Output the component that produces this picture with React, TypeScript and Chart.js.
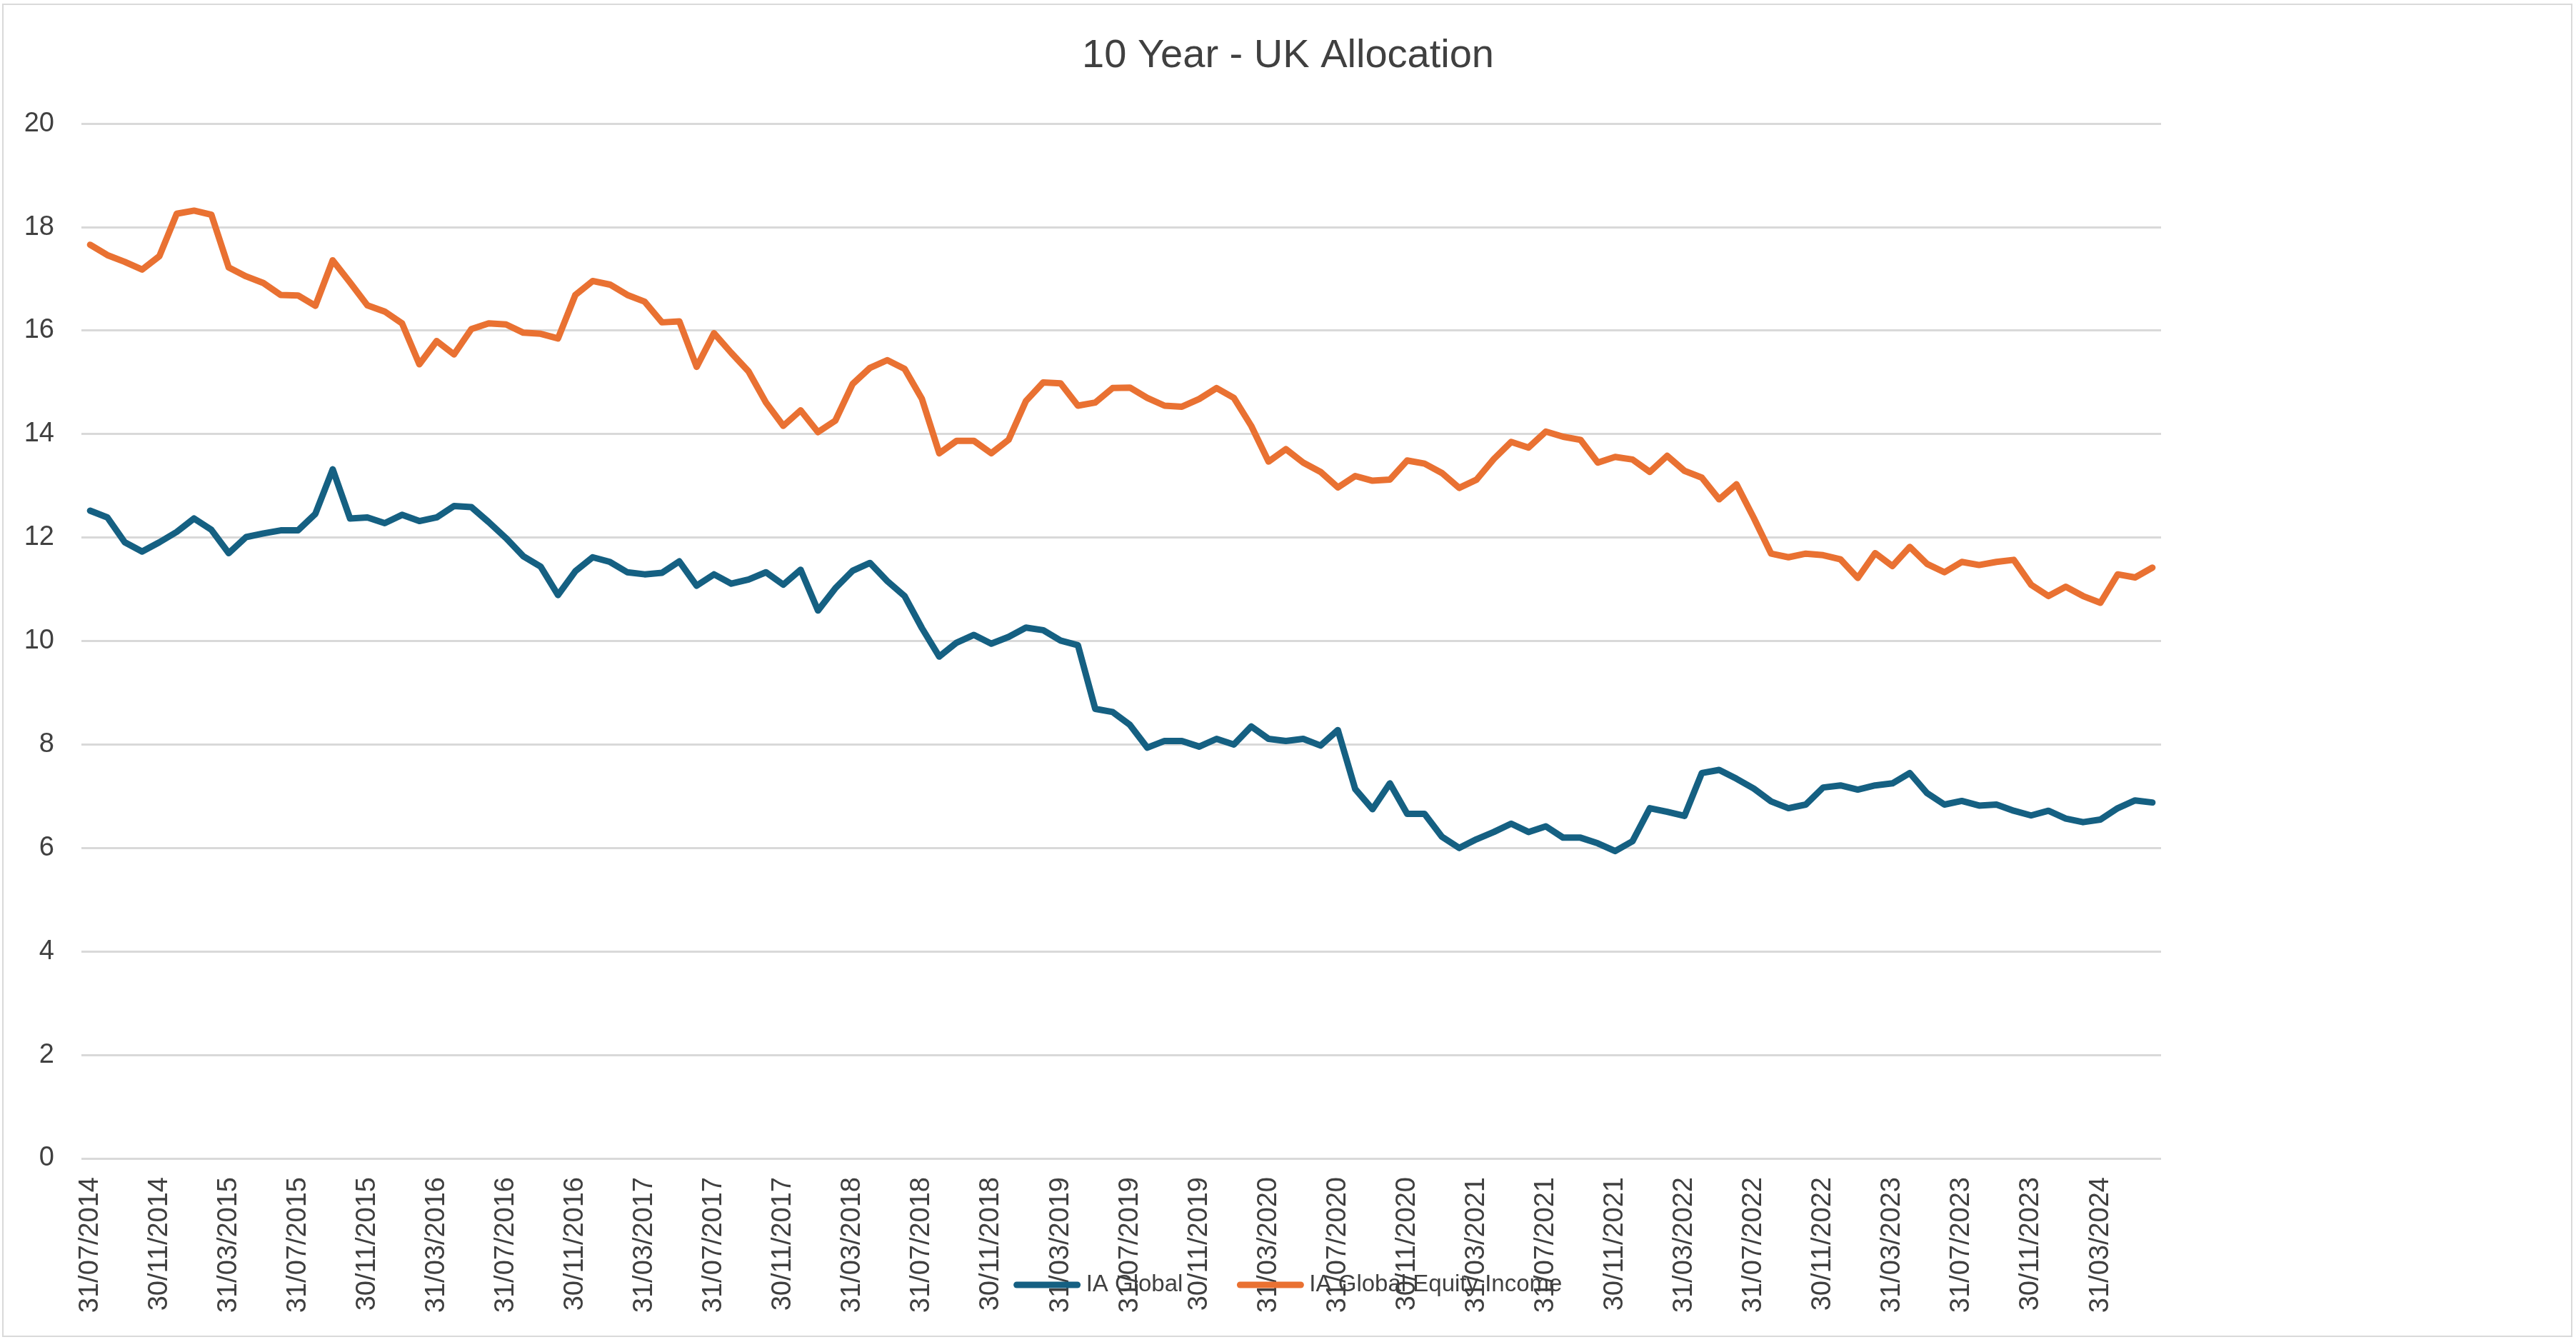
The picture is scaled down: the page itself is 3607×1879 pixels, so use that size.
import { useEffect, useRef } from 'react';
import { Chart, registerables } from 'chart.js';

Chart.register(...registerables);

// Monthly month-end dates: 31/07/2014 .. 30/06/2024
const START_YEAR = 2014;
const START_MONTH = 7;
const MONTH_COUNT = 120;
const LABEL_EVERY = 4;

const categories: string[] = Array.from({ length: MONTH_COUNT }, (_, i) => {
  const m0 = START_MONTH - 1 + i;
  const y = START_YEAR + Math.floor(m0 / 12);
  const m = (m0 % 12) + 1;
  const d = new Date(Date.UTC(y, m, 0)).getUTCDate();
  const pad = (n: number) => String(n).padStart(2, '0');
  return `${pad(d)}/${pad(m)}/${y}`;
});

const TITLE = '10 Year - UK Allocation';
const seriesNames = ['IA Global', 'IA Global Equity Income'];
const seriesColors = ['#156082', '#E97132'];

const iaGlobal: number[] = [
  12.52, 12.39, 11.91, 11.73, 11.91, 12.11, 12.37, 12.15, 11.70, 12.01,
  12.08, 12.14, 12.14, 12.46, 13.32, 12.37, 12.39, 12.28, 12.44, 12.32,
  12.39, 12.61, 12.59, 12.30, 11.99, 11.64, 11.44, 10.89, 11.35, 11.62,
  11.53, 11.33, 11.29, 11.32, 11.54, 11.07, 11.29, 11.11, 11.19, 11.33,
  11.09, 11.38, 10.59, 11.02, 11.36, 11.51, 11.16, 10.87, 10.25, 9.70,
  9.97, 10.12, 9.95, 10.08, 10.26, 10.21, 10.01, 9.92, 8.69, 8.63,
  8.38, 7.94, 8.07, 8.07, 7.96, 8.11, 8.00, 8.35, 8.11, 8.07,
  8.11, 7.98, 8.28, 7.14, 6.75, 7.25, 6.66, 6.66, 6.22, 6.00,
  6.17, 6.31, 6.47, 6.31, 6.42, 6.20, 6.20, 6.09, 5.94, 6.13,
  6.77, 6.70, 6.62, 7.45, 7.51, 7.34, 7.15, 6.90, 6.77, 6.84,
  7.17, 7.21, 7.13, 7.21, 7.25, 7.45, 7.06, 6.84, 6.91, 6.82,
  6.84, 6.72, 6.63, 6.72, 6.57, 6.50, 6.55, 6.77, 6.92, 6.88,
];

const iaGlobalEquityIncome: number[] = [
  17.66, 17.46, 17.33, 17.18, 17.44, 18.26, 18.32, 18.24, 17.22, 17.05,
  16.92, 16.69, 16.68, 16.48, 17.36, 16.93, 16.49, 16.37, 16.14, 15.35,
  15.80, 15.54, 16.03, 16.14, 16.12, 15.96, 15.94, 15.85, 16.69, 16.96,
  16.89, 16.69, 16.56, 16.16, 16.18, 15.30, 15.95, 15.57, 15.21, 14.61,
  14.16, 14.46, 14.04, 14.26, 14.97, 15.28, 15.43, 15.26, 14.68, 13.63,
  13.87, 13.87, 13.63, 13.89, 14.64, 15.00, 14.98, 14.55, 14.61, 14.89,
  14.90, 14.70, 14.55, 14.53, 14.68, 14.89, 14.70, 14.16, 13.47, 13.71,
  13.45, 13.27, 12.97, 13.19, 13.10, 13.12, 13.49, 13.43, 13.25, 12.96,
  13.12, 13.52, 13.85, 13.74, 14.05, 13.95, 13.89, 13.45, 13.56, 13.51,
  13.27, 13.58, 13.29, 13.16, 12.74, 13.03, 12.38, 11.69, 11.62, 11.69,
  11.66, 11.58, 11.22, 11.70, 11.45, 11.82, 11.49, 11.33, 11.53, 11.47,
  11.53, 11.57, 11.09, 10.87, 11.05, 10.87, 10.74, 11.29, 11.23, 11.42,
];

const yTicks = { min: 0, max: 20, step: 2 };

const FONT = '"Liberation Sans", Arial, sans-serif';
const TEXT_COLOR = '#404040';
const GRID_COLOR = '#D9D9D9';
const LINE_WIDTH = 9;

const W = 3607;
const H = 1879;

const framePlugin = {
  id: 'frame',
  beforeDraw(chart: any) {
    const { ctx, width, height } = chart;
    ctx.save();
    ctx.fillStyle = '#ffffff';
    ctx.fillRect(0, 0, width, height);
    ctx.strokeStyle = GRID_COLOR;
    ctx.lineWidth = 2;
    ctx.strokeRect(4, 6, width - 10, height - 14);
    ctx.restore();
  },
};

const bottomLegendPlugin = {
  id: 'bottomLegend',
  afterDraw(chart: any) {
    const { ctx, width } = chart;
    const sample = 93;
    const gapText = 8;
    const gapItem = 76;
    ctx.save();
    ctx.font = `33px ${FONT}`;
    const items = chart.data.datasets.map((ds: any) => ({
      label: ds.label as string,
      color: ds.borderColor as string,
      w: ctx.measureText(ds.label).width,
    }));
    const total =
      items.reduce((s: number, it: any) => s + sample + gapText + it.w, 0) +
      gapItem * (items.length - 1);
    let x = width / 2 - total / 2;
    const y = 1799;
    items.forEach((it: any) => {
      ctx.strokeStyle = it.color;
      ctx.lineWidth = LINE_WIDTH;
      ctx.lineCap = 'round';
      ctx.beginPath();
      ctx.moveTo(x + 4, y);
      ctx.lineTo(x + sample - 4, y);
      ctx.stroke();
      ctx.fillStyle = TEXT_COLOR;
      ctx.textBaseline = 'middle';
      ctx.textAlign = 'left';
      ctx.fillText(it.label, x + sample + gapText, y);
      x += sample + gapText + it.w + gapItem;
    });
    ctx.restore();
  },
};

export default function App() {
  const ref = useRef<HTMLCanvasElement | null>(null);

  useEffect(() => {
    if (!ref.current) return;
    const chart = new Chart(ref.current, {
      type: 'line',
      data: {
        labels: categories,
        datasets: [
          {
            label: seriesNames[0],
            data: iaGlobal,
            borderColor: seriesColors[0],
            backgroundColor: seriesColors[0],
            borderWidth: LINE_WIDTH,
            pointRadius: 0,
            borderJoinStyle: 'round',
            borderCapStyle: 'round',
            tension: 0,
          },
          {
            label: seriesNames[1],
            data: iaGlobalEquityIncome,
            borderColor: seriesColors[1],
            backgroundColor: seriesColors[1],
            borderWidth: LINE_WIDTH,
            pointRadius: 0,
            borderJoinStyle: 'round',
            borderCapStyle: 'round',
            tension: 0,
          },
        ],
      },
      options: {
        responsive: false,
        animation: false,
        devicePixelRatio: 1,
        layout: { padding: 0 },
        plugins: {
          legend: { display: false },
          tooltip: { enabled: false },
          title: {
            display: true,
            text: TITLE,
            color: TEXT_COLOR,
            font: { family: FONT, size: 56, weight: 'normal' },
            padding: { top: 45, bottom: 61 },
          },
        },
        scales: {
          x: {
            type: 'category',
            offset: true,
            grid: { display: false, drawTicks: false },
            border: { display: false },
            afterFit: (s: any) => {
              s.height = H - 1622;
            },
            ticks: {
              autoSkip: false,
              maxRotation: 90,
              minRotation: 90,
              padding: 26,
              color: TEXT_COLOR,
              font: { family: FONT, size: 38 },
              callback: (_v: any, i: number) => (i % LABEL_EVERY === 0 ? categories[i] : ''),
            },
          },
          y: {
            min: yTicks.min,
            max: yTicks.max,
            grid: { color: GRID_COLOR, lineWidth: 3, drawTicks: false },
            border: { display: false },
            afterFit: (s: any) => {
              s.width = 114;
            },
            ticks: {
              stepSize: yTicks.step,
              padding: 38,
              color: TEXT_COLOR,
              font: { family: FONT, size: 38 },
            },
          },
          yRight: {
            position: 'right',
            display: true,
            grid: { display: false, drawTicks: false },
            border: { display: false },
            ticks: { display: false },
            afterFit: (s: any) => {
              s.width = W - 3026;
            },
          },
        },
      },
      plugins: [framePlugin, bottomLegendPlugin],
    } as any);
    return () => chart.destroy();
  }, []);

  return (
    <div style={{ position: 'fixed', left: 0, top: 0, width: W, height: H, background: '#fff' }}>
      <canvas ref={ref} width={W} height={H} style={{ display: 'block', width: W, height: H }} />
    </div>
  );
}
